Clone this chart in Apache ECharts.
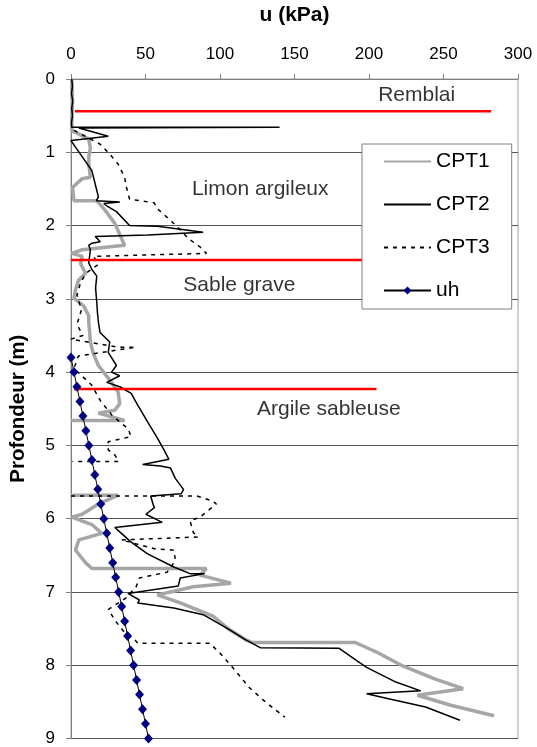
<!DOCTYPE html>
<html>
<head>
<meta charset="utf-8">
<script src="https://cdn.jsdelivr.net/npm/echarts@6/dist/echarts.min.js"></script>
<style>
  html, body { margin: 0; padding: 0; background: #fff; }
  #chart { width: 537px; height: 747px; }
</style>
</head>
<body>
<div id="chart"></div>
<script>
// depth (m) and pore pressure u (kPa), null = gap in record
const cpt1Depth = [0, 0.3, 0.6, 0.67, 0.71, 0.78, 0.82, 0.94, 1.05, 1.16, 1.25, 1.34, 1.36, 1.48, 1.66, 1.66, 1.79, 1.97, 2.27, 2.33, 2.38, 2.42, 2.52, 2.65, 2.75, 2.87, 2.99, 3.1, 3.23, 3.32, 3.45, 3.59, 3.75, 3.91, 4.14, 4.27, 4.43, 4.52, 4.56, 4.66, 4.66, null, 5.68, 5.68, 5.8, 5.94, 5.98, 6.08, 6.2, 6.29, 6.43, 6.6, 6.68, 6.68, 6.77, 6.88, 6.93, 6.99, 7.04, 7.15, 7.33, 7.51, 7.65, 7.69, 7.69, 7.83, 8.01, 8.19, 8.32, 8.41, 8.55, 8.69];
const cpt1U = [0.5, 1, 0.5, 0.5, 1, 8, 11.9, 13, 12, 11.9, 12.5, 13, 7.5, 1, 2, 17.3, 22.8, 29.4, 36, 7.5, 0.5, 7.5, 6.4, 9.7, 5, 3.1, 2, 8.6, 11.9, 11.9, 12.5, 13, 15, 18.4, 27.2, 31.6, 32.7, 29.4, 18.4, 36, 0, null, 0, 31.6, 18.4, 7.5, 0.5, 14, 20.6, 5.3, 3, 9.7, 14, 90.9, 86.5, 107.4, 82, 69, 58, 73.3, 95.3, 106, 117, 121.6, 190.8, 206, 222.6, 244.5, 263.2, 232.5, 255.5, 284];

const cpt2Depth = [0, 0.1, 0.2, 0.3, 0.4, 0.5, 0.6, 0.66, 0.66, 0.67, 0.78, 0.84, 1.25, 1.61, 1.66, 1.68, 1.7, 1.73, 1.81, 2, 2.01, 2.09, 2.13, 2.15, 2.22, 2.24, 2.27, 2.33, 2.51, 2.6, 2.69, 2.85, 3.05, 3.2, 3.32, 3.46, 3.59, 3.73, 3.91, 4, 4.05, 4.14, 4.2, 4.29, 4.45, 4.68, 4.9, 5.06, 5.19, 5.26, 5.28, 5.31, 5.45, 5.6, 5.66, 5.69, 5.8, 5.85, 5.94, 6.05, 6.12, 6.16, 6.32, 6.48, 6.66, 6.75, 6.75, 6.81, 6.92, 7.02, 7.11, 7.15, 7.22, 7.31, 7.51, 7.65, 7.76, 7.77, 7.94, 8.03, 8.23, 8.35, 8.39, 8.46, 8.57, 8.75];
const cpt2U = [0.5, 1, 0.3, 1.2, 0.5, 1, 0.3, 0.5, 140, 5.3, 25, 0, 14, 18.4, 17, 32.7, 22, 24, 30.5, 39.3, 58, 88.7, 51.4, 16.3, 19.6, 14, 11.9, 13, 11.9, 14, 17.3, 16.5, 17.3, 17.8, 18.4, 19.5, 26, 25, 30.5, 27.2, 32.7, 24, 32.7, 40.4, 44.8, 51.4, 58, 62.4, 65.7, 48.1, 60, 66.8, 70, 75.5, 74, 53.5, 55, 56, 50.3, 61.2, 29.4, 31.6, 40.4, 51.4, 69, 79.9, 89.8, 73.3, 72, 38.2, 45.9, 44.8, 69, 88.7, 106, 117, 127, 180, 192, 198.4, 218, 234.7, 198.4, 213.8, 238, 261];

const cpt3Depth = [0.7, 0.89, 1.03, 1.16, 1.34, 1.46, 1.64, 1.69, 1.77, 1.93, 2.06, 2.18, 2.29, 2.38, 2.42, 2.53, 2.65, 2.78, 2.95, 3.15, 3.35, 3.5, 3.55, 3.62, 3.66, 3.66, 3.78, 3.95, 4.18, 4.4, 4.6, 4.77, 4.88, 4.95, 5.06, 5.13, 5.22, 5.22, null, 5.69, 5.69, 5.76, 5.8, 5.98, 6.03, 6.19, 6.25, 6.29, 6.41, 6.43, 6.57, 6.73, 6.81, 6.93, 7.08, 7.24, 7.4, 7.58, 7.65, 7.7, 7.7, 7.83, 8.03, 8.3, 8.5, 8.71];
const cpt3U = [2, 19.6, 26.2, 31.6, 36, 37, 39.3, 55.8, 58, 66.8, 73.4, 78.9, 86.5, 90.9, 15.1, 18.4, 10, 6.4, 4, 7, 4, 8, 0, 20, 31.6, 43.5, 5, 2, 14, 20, 28, 38.2, 40.4, 25, 25, 29.4, 32, 1, null, 0, 84.3, 95.3, 97.5, 86.5, 79.9, 82.1, 85.4, 33.8, 55.8, 69, 70.1, 64.5, 45.9, 43.7, 37, 25, 30, 37, 42.6, 44.8, 93.1, 99.7, 108.5, 119.4, 130.4, 143.6];

const uhDepth = [3.8, 4.0, 4.2, 4.4, 4.6, 4.8, 5.0, 5.2, 5.4, 5.6, 5.8, 6.0, 6.2, 6.4, 6.6, 6.8, 7.0, 7.2, 7.4, 7.6, 7.8, 8.0, 8.2, 8.4, 8.6, 8.8, 9.0];
const uhU = [0, 2, 4, 6, 8, 10, 12, 14, 16, 18, 20, 22, 24, 26, 28, 30, 32, 34, 36, 38, 40, 42, 44, 46, 48, 50, 52];

// layer boundaries (red lines)
const boundaryDepth = [0.44, 2.47, 4.23];
const boundaryFrom = [2.6, 0, 2];
const boundaryTo = [282, 205, 205];

// layer names
const layerNames = ['Remblai', 'Limon argileux', 'Sable grave', 'Argile sableuse'];
const layerU = [232, 127, 113, 173];
const layerDepth = [0.22, 1.51, 2.81, 4.5];

const FONT = 'Liberation Sans, Arial, sans-serif';

function pairs(us, ds) {
  return us.map(function (u, i) {
    return u === null ? ['-', '-'] : [u, ds[i]];
  });
}

const boundaryData = [];
boundaryDepth.forEach(function (d, i) {
  boundaryData.push([boundaryFrom[i], d], [boundaryTo[i], d], ['-', '-']);
});

const noMarker = { opacity: 0 };

const chart = echarts.init(document.getElementById('chart'));

chart.setOption({
  animation: false,
  backgroundColor: '#fff',
  grid: {
    left: 62, right: 19, top: 74, bottom: 7,
    show: true, borderColor: '#a0a0a0', borderWidth: 1
  },
  legend: {
    orient: 'vertical',
    left: 362, top: 144,
    itemWidth: 47, itemHeight: 10, itemGap: 22,
    padding: [7, 22, 8, 21],
    borderColor: '#808080', borderWidth: 1,
    backgroundColor: '#fff',
    textStyle: { fontFamily: FONT, fontSize: 21, color: '#000' },
    data: [
      { name: 'CPT1', itemStyle: noMarker },
      { name: 'CPT2', itemStyle: noMarker },
      { name: 'CPT3', itemStyle: noMarker },
      'uh'
    ]
  },
  xAxis: {
    type: 'value',
    position: 'top',
    min: 0, max: 300, interval: 50,
    name: 'u (kPa)',
    nameLocation: 'middle',
    nameGap: 53,
    nameTextStyle: { fontFamily: FONT, fontSize: 21, fontWeight: 'bold', color: '#000' },
    axisLine: { show: true, lineStyle: { color: '#808080' } },
    axisTick: { show: true, length: 5, lineStyle: { color: '#808080' } },
    axisLabel: { fontFamily: FONT, fontSize: 17, color: '#000', margin: 16 },
    splitLine: { show: false }
  },
  yAxis: {
    type: 'value',
    inverse: true,
    min: 0, max: 9, interval: 1,
    name: 'Profondeur (m)',
    nameLocation: 'middle',
    nameGap: 42,
    nameRotate: 90,
    nameTextStyle: { fontFamily: FONT, fontSize: 20.5, fontWeight: 'bold', color: '#000' },
    axisLine: { show: true, lineStyle: { color: '#808080' } },
    axisTick: { show: true, length: 5, lineStyle: { color: '#808080' } },
    axisLabel: { fontFamily: FONT, fontSize: 17, color: '#000', margin: 16 },
    splitLine: { show: true, lineStyle: { color: '#555', width: 1 } }
  },
  series: [
    {
      name: 'CPT1', type: 'line', symbol: 'none',
      data: pairs(cpt1U, cpt1Depth),
      lineStyle: { color: '#a6a6a6', width: 3.5 },
      itemStyle: { color: '#a6a6a6' }
    },
    {
      name: 'CPT2', type: 'line', symbol: 'none',
      data: pairs(cpt2U, cpt2Depth),
      lineStyle: { color: '#000', width: 1.5 },
      itemStyle: { color: '#000' }
    },
    {
      name: 'CPT3', type: 'line', symbol: 'none',
      data: pairs(cpt3U, cpt3Depth),
      lineStyle: { color: '#000', width: 1.5, type: [4, 5] },
      itemStyle: { color: '#000' }
    },
    {
      name: 'boundaries', type: 'line', symbol: 'none', silent: true,
      data: boundaryData,
      lineStyle: { color: '#ff0000', width: 2.5 },
      z: 3
    },
    {
      name: 'uh', type: 'line',
      data: pairs(uhU, uhDepth),
      symbol: 'diamond', symbolSize: [9, 10],
      lineStyle: { color: '#000', width: 1 },
      itemStyle: { color: '#000080' },
      z: 4
    },
    {
      name: 'layers', type: 'scatter', silent: true,
      symbolSize: 1,
      itemStyle: { color: '#fff' },
      data: layerNames.map(function (n, i) { return { name: n, value: [layerU[i], layerDepth[i]] }; }),
      label: {
        show: true, position: 'inside',
        formatter: '{b}',
        fontFamily: FONT, fontSize: 21, color: '#000',
        textBorderWidth: 0
      }
    }
  ]
});

window.addEventListener('resize', () => chart.resize());
</script>
</body>
</html>
